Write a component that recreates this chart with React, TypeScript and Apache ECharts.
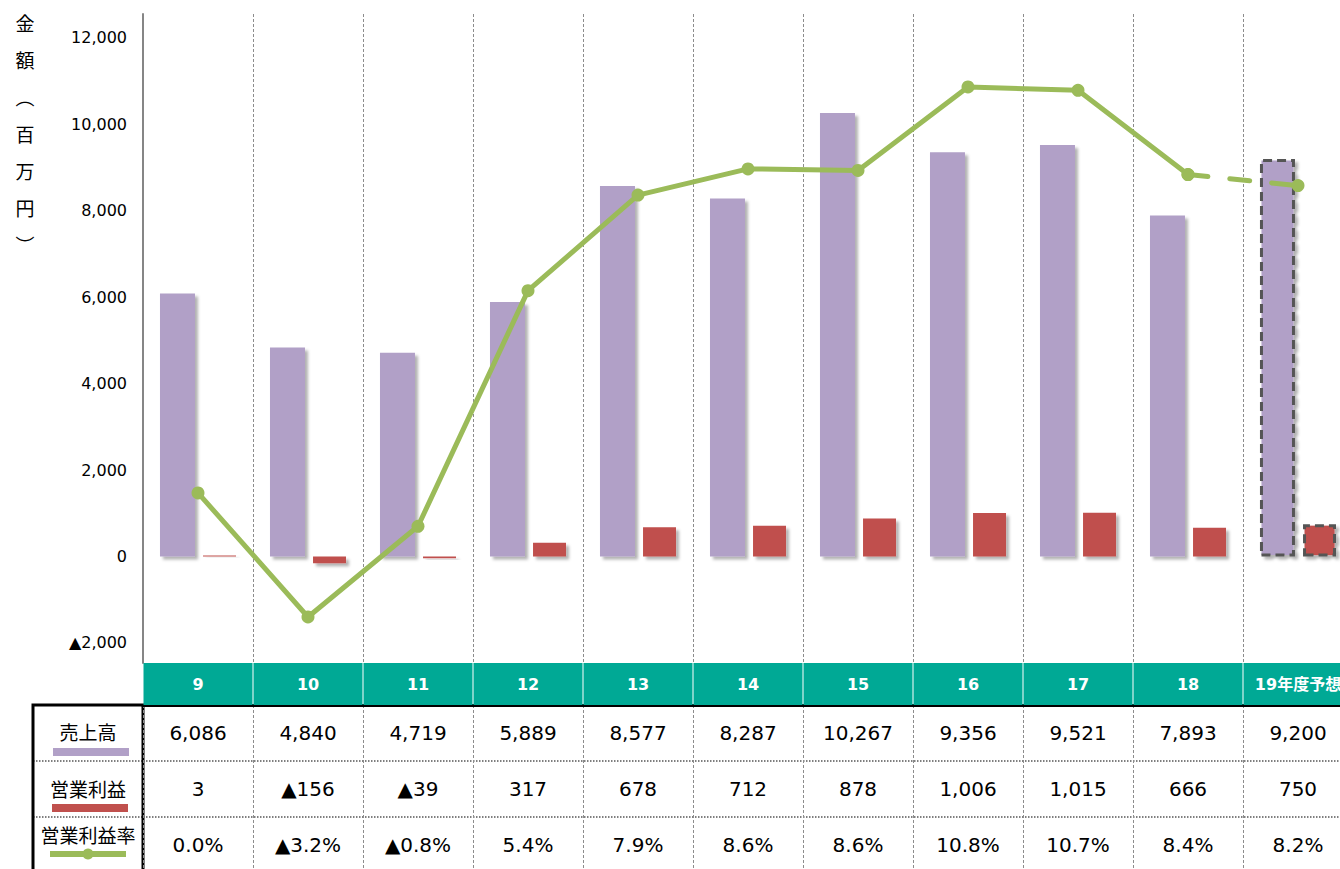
import React, { useEffect, useRef } from 'react';
import * as echarts from 'echarts';

const categories = ['9', '10', '11', '12', '13', '14', '15', '16', '17', '18', '19年度予想'];
const sales = [6086, 4840, 4719, 5889, 8577, 8287, 10267, 9356, 9521, 7893, 9200];
const profit = [3, -156, -39, 317, 678, 712, 878, 1006, 1015, 666, 750];
const profitRate = [0.05, -3.22, -0.83, 5.38, 7.9, 8.59, 8.55, 10.75, 10.66, 8.44, 8.15];
const rateLabels = ['0.0%', '▲3.2%', '▲0.8%', '5.4%', '7.9%', '8.6%', '8.6%', '10.8%', '10.7%', '8.4%', '8.2%'];
const yTicks = [-2000, 0, 2000, 4000, 6000, 8000, 10000, 12000];
const forecastIndex = 10;

const PURPLE = '#B1A0C7';
const RED = '#C0504D';
const GREEN = '#9BBB59';
const TEAL = '#00A995';
const FONT = '"DejaVu Sans", "Noto Sans CJK JP", sans-serif';
const CJK = '"Noto Sans CJK JP", sans-serif';

const fmtNum = (v: number) => (v < 0 ? '▲' : '') + Math.abs(v).toLocaleString('en-US');

const shadow = {
  shadowColor: 'rgba(0,0,0,0.3)',
  shadowBlur: 3,
  shadowOffsetX: 3,
  shadowOffsetY: 3,
};
const forecastBorder = { borderColor: '#555', borderWidth: 3, borderType: [9, 5] };

const rowAxis = (offset: number, labels: string[]) => ({
  type: 'category',
  gridIndex: 1,
  position: 'top',
  offset,
  data: categories,
  axisLine: { show: false },
  axisTick: { show: false },
  splitLine: { show: false },
  axisLabel: {
    inside: true,
    margin: 0,
    interval: 0,
    formatter: (_v: string, i: number) => labels[i],
    color: '#000',
    fontSize: 20,
    fontFamily: FONT,
    lineHeight: 56,
    height: 56,
  },
});

const vDash = { show: true, interval: 0, lineStyle: { color: '#8c8c8c', type: [3, 2], width: 1 } };

const option: any = {
  animation: false,
  backgroundColor: '#fff',
  grid: [
    { left: 143, right: -13, top: 14, bottom: 206, containLabel: false, outerBoundsMode: 'none' },
    { left: 143, right: -13, top: 705, bottom: -4, containLabel: false, outerBoundsMode: 'none' },
  ],
  xAxis: [
    {
      type: 'category',
      gridIndex: 0,
      data: categories,
      axisLine: { show: false },
      axisTick: { show: false },
      axisLabel: { show: false },
      splitLine: vDash,
    },
    {
      type: 'category',
      gridIndex: 1,
      position: 'top',
      data: categories,
      axisLine: { show: true, lineStyle: { color: '#000', width: 3 } },
      axisTick: { show: false },
      splitLine: vDash,
      axisLabel: {
        margin: 0,
        interval: 0,
        color: '#fff',
        fontWeight: 'bold',
        fontSize: 16,
        fontFamily: FONT,
        backgroundColor: TEAL,
        width: 109,
        height: 42,
        lineHeight: 42,
        align: 'center',
        overflow: 'none',
      },
    },
    rowAxis(0, sales.map(fmtNum)),
    rowAxis(-56, profit.map(fmtNum)),
    rowAxis(-112, rateLabels),
  ],
  yAxis: [
    {
      type: 'value',
      gridIndex: 0,
      min: -2463,
      max: 12555,
      axisLine: { show: true, lineStyle: { color: '#868686', width: 2 } },
      axisTick: { show: false },
      splitLine: { show: false },
      axisLabel: {
        customValues: yTicks,
        formatter: (v: number) => fmtNum(v),
        color: '#000',
        fontSize: 16,
        margin: 16,
        fontFamily: FONT,
      },
    },
    {
      type: 'value',
      gridIndex: 0,
      min: -4.433,
      max: 12.672,
      show: false,
      splitLine: { show: false },
    },
    {
      type: 'category',
      gridIndex: 1,
      data: ['売上高', '営業利益', '営業利益率'],
      inverse: true,
      axisLine: { show: false },
      axisTick: { show: false },
      axisLabel: { show: false },
      splitLine: { show: true, interval: 0, lineStyle: { color: '#555', type: 'dotted', width: 1.5 } },
    },
  ],
  series: [
    {
      name: '売上高',
      type: 'bar',
      xAxisIndex: 0,
      yAxisIndex: 0,
      barWidth: 35,
      barGap: '23%',
      itemStyle: { color: PURPLE, ...shadow },
      data: sales.map((v, i) => (i === forecastIndex ? { value: v, itemStyle: forecastBorder } : v)),
    },
    {
      name: '営業利益',
      type: 'bar',
      xAxisIndex: 0,
      yAxisIndex: 0,
      barWidth: 33,
      barMinHeight: 1,
      itemStyle: { color: RED, ...shadow },
      data: profit.map((v, i) => (i === forecastIndex ? { value: v, itemStyle: forecastBorder } : v)),
    },
    {
      name: '営業利益率',
      type: 'line',
      xAxisIndex: 0,
      yAxisIndex: 1,
      symbol: 'circle',
      symbolSize: 13,
      z: 5,
      lineStyle: { color: GREEN, width: 5, cap: 'round', join: 'round' },
      itemStyle: { color: GREEN },
      data: profitRate.map((v, i) => (i < forecastIndex ? v : '-')),
    },
    {
      name: '営業利益率予想',
      type: 'line',
      xAxisIndex: 0,
      yAxisIndex: 1,
      symbol: 'circle',
      symbolSize: 13,
      z: 5,
      lineStyle: { color: GREEN, width: 5, type: [20, 22], cap: 'round' },
      itemStyle: { color: GREEN },
      data: profitRate.map((v, i) => (i >= forecastIndex - 1 ? v : '-')),
    },
  ],
  graphic: [
    {
      type: 'text',
      x: 25,
      y: 4,
      z: 10,
      style: {
        text: '金\n額\n︵\n百\n万\n円\n︶',
        fontSize: 19,
        fontFamily: CJK,
        fill: '#000',
        align: 'center',
        verticalAlign: 'top',
        lineHeight: 37,
      },
    },
    {
      type: 'group',
      z: 10,
      children: [
        { type: 'line', shape: { x1: 33, y1: 761, x2: 143, y2: 761 }, style: { stroke: '#555', lineWidth: 1.5, lineDash: [1.5, 1.5] } },
        { type: 'line', shape: { x1: 33, y1: 817, x2: 143, y2: 817 }, style: { stroke: '#555', lineWidth: 1.5, lineDash: [1.5, 1.5] } },
        { type: 'rect', shape: { x: 33, y: 705, width: 110, height: 170 }, style: { fill: 'none', stroke: '#000', lineWidth: 3 } },
        { type: 'text', x: 88, y: 731, style: { text: '売上高', fontSize: 19, fontFamily: CJK, fill: '#000', align: 'center', verticalAlign: 'middle' } },
        { type: 'rect', shape: { x: 53, y: 748, width: 76, height: 8 }, style: { fill: PURPLE } },
        { type: 'text', x: 88, y: 788, style: { text: '営業利益', fontSize: 19, fontFamily: CJK, fill: '#000', align: 'center', verticalAlign: 'middle' } },
        { type: 'rect', shape: { x: 52, y: 804, width: 76, height: 8 }, style: { fill: RED } },
        { type: 'text', x: 88, y: 834, style: { text: '営業利益率', fontSize: 19, fontFamily: CJK, fill: '#000', align: 'center', verticalAlign: 'middle' } },
        { type: 'line', shape: { x1: 50, y1: 854, x2: 126, y2: 854 }, style: { stroke: GREEN, lineWidth: 6 } },
        { type: 'circle', shape: { cx: 88, cy: 854, r: 5.5 }, style: { fill: GREEN } },
      ],
    },
  ],
};

export default function App() {
  const ref = useRef<HTMLDivElement>(null);
  useEffect(() => {
    document.body.style.margin = '0';
    const chart = echarts.init(ref.current!, null, { renderer: 'svg' });
    chart.setOption(option);
    return () => chart.dispose();
  }, []);
  return (
    <div
      ref={ref}
      style={{ position: 'absolute', left: 0, top: 0, width: 1340, height: 869, overflow: 'hidden', background: '#fff' }}
    />
  );
}
